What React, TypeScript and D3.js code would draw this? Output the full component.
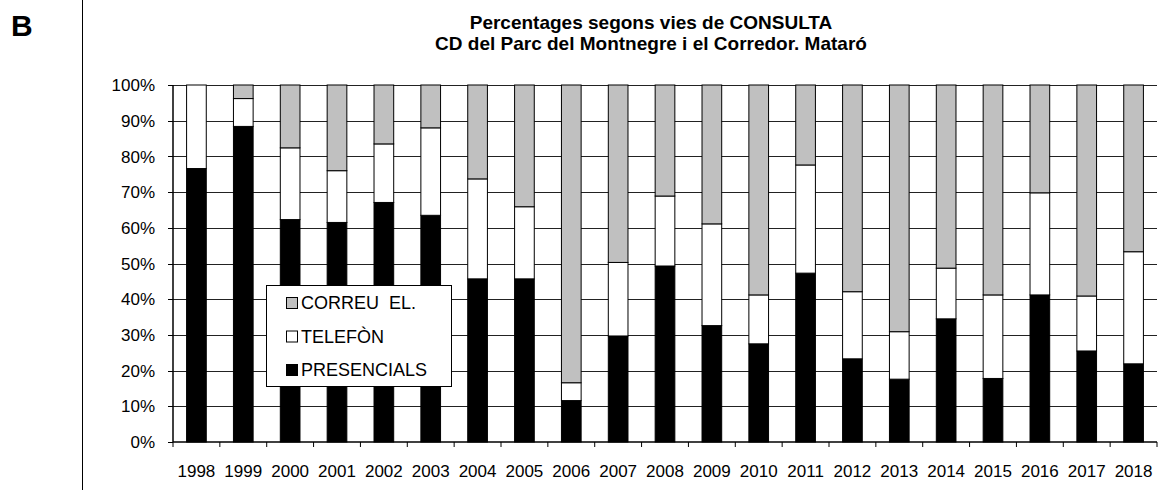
import React from "react";
import * as d3 from "d3";

const years = ["1998","1999","2000","2001","2002","2003","2004","2005","2006","2007","2008","2009","2010","2011","2012","2013","2014","2015","2016","2017","2018"];
const presencials = [76.6, 88.4, 62.3, 61.5, 67.1, 63.5, 45.7, 45.7, 11.6, 29.7, 49.3, 32.6, 27.5, 47.3, 23.3, 17.6, 34.5, 17.8, 41.2, 25.5, 21.9];
const telefon = [23.4, 7.8, 20.1, 14.5, 16.4, 24.5, 28.0, 20.2, 5.0, 20.6, 19.6, 28.5, 13.7, 30.3, 18.8, 13.3, 14.2, 23.4, 28.6, 15.4, 31.4];
const correu = [0, 3.8, 17.6, 24.0, 16.5, 12.0, 26.3, 34.1, 83.4, 49.7, 31.1, 38.9, 58.8, 22.4, 57.9, 69.1, 51.3, 58.8, 30.2, 59.1, 46.7];
const yTicks = [0, 10, 20, 30, 40, 50, 60, 70, 80, 90, 100];
const seriesKeys = ["presencials", "telefon", "correu"];
const seriesColors: Record<string, string> = { presencials: "#000000", telefon: "#ffffff", correu: "#c0c0c0" };
const legendItems = [
  { key: "correu", label: "CORREU  EL." },
  { key: "telefon", label: "TELEFÒN" },
  { key: "presencials", label: "PRESENCIALS" },
];
const titleLines = ["Percentages segons vies de CONSULTA", "CD del Parc del Montnegre i el Corredor. Mataró"];

const FONT = "'Liberation Sans', Arial, Helvetica, sans-serif";

export default function App() {
  const W = 1173, H = 492;
  const left = 173, right = 1157, top = 85, bottom = 442;

  const rows = years.map((y, i) => ({ year: y, presencials: presencials[i], telefon: telefon[i], correu: correu[i] }));
  const stacked = d3.stack<any>().keys(seriesKeys)(rows);

  const x = d3.scaleBand<string>().domain(years).range([left, right]).paddingInner(0.58).paddingOuter(0.29);
  const xStep = d3.scaleLinear().domain([0, years.length]).range([left, right]);
  const y = d3.scaleLinear().domain([0, 100]).range([bottom, top]);

  return (
    <svg width={W} height={H} style={{ position: "absolute", left: 0, top: 0, background: "#fff" }} fontFamily={FONT}>
      <rect x={0} y={0} width={W} height={H} fill="#fff" />
      <text x={11} y={36} fontSize={30} fontWeight="bold">B</text>
      <line x1={82.5} x2={82.5} y1={0} y2={490} stroke="#000" strokeWidth={1} />

      {titleLines.map((t, i) => (
        <text key={i} x={651} y={29 + i * 21} textAnchor="middle" fontSize={19} fontWeight="bold">{t}</text>
      ))}

      {/* gridlines */}
      {yTicks.filter(t => t > 0).map(t => (
        <line key={t} x1={left} x2={right} y1={Math.round(y(t)) + 0.5} y2={Math.round(y(t)) + 0.5} stroke="#222" strokeWidth={1.2} />
      ))}

      {/* bars */}
      {stacked.map(s => (
        <g key={s.key}>
          {s.map((d, i) => {
            const h = y(d[0]) - y(d[1]);
            if (h <= 0) return null;
            return (
              <rect key={i} x={x(years[i])} y={y(d[1])} width={x.bandwidth()} height={h}
                fill={seriesColors[s.key]} stroke="#000" strokeWidth={1} />
            );
          })}
        </g>
      ))}

      {/* y axis */}
      <line x1={left} x2={left} y1={top} y2={bottom} stroke="#000" strokeWidth={1.5} />
      {yTicks.map(t => (
        <g key={t}>
          <line x1={left - 5} x2={left} y1={Math.round(y(t)) + 0.5} y2={Math.round(y(t)) + 0.5} stroke="#000" strokeWidth={1} />
          <text x={155} y={y(t)} dy="0.36em" textAnchor="end" fontSize={17}>{t}%</text>
        </g>
      ))}

      {/* x axis */}
      <line x1={left} x2={right} y1={bottom} y2={bottom} stroke="#000" strokeWidth={1.5} />
      {d3.range(years.length + 1).map(i => (
        <line key={i} x1={xStep(i)} x2={xStep(i)} y1={bottom} y2={bottom + 5} stroke="#000" strokeWidth={1} />
      ))}
      {years.map(yr => (
        <text key={yr} x={(x(yr) as number) + x.bandwidth() / 2} y={477} textAnchor="middle" fontSize={17}>{yr}</text>
      ))}

      {/* legend */}
      <rect x={266.5} y={285.5} width={185} height={101} fill="#fff" stroke="#000" strokeWidth={1} />
      {legendItems.map((it, i) => {
        const cy = 303 + i * 33.5;
        return (
          <g key={it.key}>
            <rect x={286.5} y={cy - 5.5} width={11} height={11} fill={seriesColors[it.key]} stroke="#000" strokeWidth={1} />
            <text x={301} y={cy} dy="0.36em" fontSize={18} xmlSpace="preserve">{it.label}</text>
          </g>
        );
      })}
    </svg>
  );
}
